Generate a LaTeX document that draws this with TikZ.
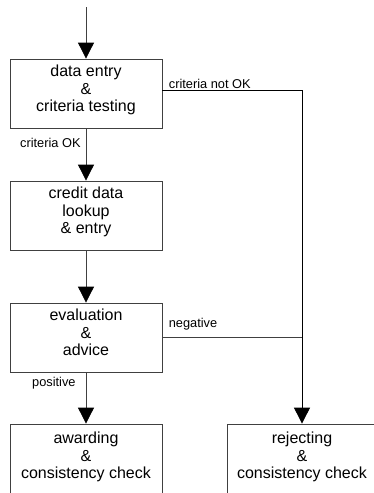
\documentclass[tikz,border=0pt]{standalone}
\usepackage{fontspec}
\setmainfont{Liberation Sans}
\usetikzlibrary{arrows.meta}
\begin{document}
\begin{tikzpicture}[x=1pt,y=1pt,>={Triangle[width=16pt,length=16pt,color=black]},
	stepbox/.style={draw=black!75,line width=0.8pt,minimum width=152pt,minimum height=69pt,align=center,font=\fontsize{16}{17.5}\selectfont,execute at end node={\rule[-10.5pt]{0pt}{10.5pt}}},
	flow/.style={draw=black!75,line width=0.8pt},
	lbl/.style={font=\fontsize{12.8}{14}\selectfont,inner sep=1pt}]
	\useasboundingbox (0,0) rectangle (374,-493);
	\coordinate (start) at (86,-7);
	\node[stepbox] (data) at (86,-93.5) {data entry\\\&\\criteria testing};
	\node[stepbox] (credit) at (86,-215.5) {credit data\\lookup\\\& entry};
	\node[stepbox] (eval) at (86,-337.5) {evaluation\\\&\\advice};
	\node[stepbox,minimum height=73pt] (award) at (86,-460.5) {awarding\\\&\\consistency check};
	\node[stepbox,minimum width=150pt,minimum height=73pt] (reject) at (302,-460.5) {rejecting\\\&\\consistency check};
	\coordinate (notok) at ([yshift=3.5pt]data.east);
	\coordinate (join) at (eval.east -| reject.north);
	% main line
	\draw[flow,->] (start) -- (data);
	\draw[flow,->] (data) -- node[lbl,anchor=east,pos=0.28,xshift=-4pt]{criteria OK} (credit);
	\draw[flow,->] (credit) -- (eval);
	\draw[flow,->] (eval) -- node[lbl,anchor=east,pos=0.21,xshift=-9pt]{positive} (award);
	% rejection branch
	\draw[line width=0.9pt,->] (notok) -| node[lbl,anchor=south west,pos=0,xshift=5pt]{criteria not OK} (reject.north);
	\draw[flow] (eval.east) -- node[lbl,anchor=south west,pos=0,xshift=5pt,yshift=6pt]{negative} (join);
\end{tikzpicture}
\end{document}
